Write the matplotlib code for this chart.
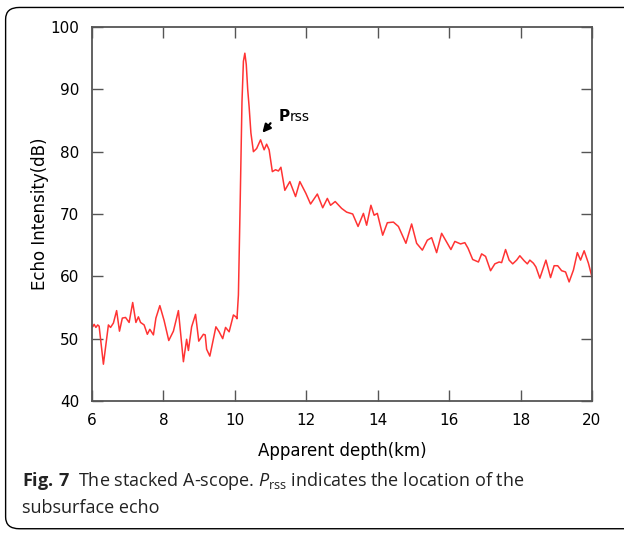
"""Stacked A-scope: echo intensity vs apparent depth, with the Prss marker."""
import matplotlib
matplotlib.use("Agg")
import matplotlib.pyplot as plt
from matplotlib.patches import FancyBboxPatch

# --- data -------------------------------------------------------------------
depth_km = [
    6.00, 6.02, 6.06, 6.11, 6.16, 6.20, 6.32, 6.46, 6.52, 6.60, 6.69, 6.77,
    6.85, 6.94, 7.04, 7.14, 7.23, 7.30, 7.36, 7.46, 7.55, 7.62, 7.72, 7.79,
    7.90, 8.02, 8.15, 8.28, 8.42, 8.56, 8.65, 8.70, 8.79, 8.90, 8.99, 9.12,
    9.17, 9.21, 9.30, 9.40, 9.47, 9.56, 9.66, 9.74, 9.84, 9.96, 10.03, 10.06,
    10.10, 10.15, 10.20, 10.24, 10.28, 10.32, 10.36, 10.40, 10.45, 10.52,
    10.61, 10.72, 10.82, 10.89, 10.96, 11.05, 11.14, 11.22, 11.29, 11.40,
    11.54, 11.70, 11.82, 11.99, 12.12, 12.31, 12.46, 12.59, 12.68, 12.81,
    12.99, 13.13, 13.30, 13.45, 13.60, 13.69, 13.81, 13.90, 13.99, 14.14,
    14.27, 14.44, 14.58, 14.79, 14.95, 15.09, 15.25, 15.39, 15.51, 15.65,
    15.79, 15.91, 16.05, 16.16, 16.32, 16.44, 16.53, 16.66, 16.82, 16.91,
    17.02, 17.16, 17.28, 17.40, 17.47, 17.58, 17.68, 17.78, 17.89, 17.98,
    18.10, 18.19, 18.26, 18.36, 18.43, 18.54, 18.71, 18.84, 18.94, 19.04,
    19.15, 19.26, 19.36, 19.48, 19.59, 19.68, 19.78, 19.90, 20.00,
]
intensity_db = [
    52.0, 51.9, 52.3, 51.8, 52.2, 52.0, 45.9, 52.2, 51.8, 52.5, 54.5, 51.2,
    53.3, 53.4, 52.6, 55.8, 52.6, 53.5, 52.6, 52.2, 50.7, 51.5, 50.6, 53.3,
    55.3, 52.9, 49.7, 51.2, 54.5, 46.3, 49.9, 48.1, 51.9, 53.9, 49.6, 50.7,
    50.6, 48.3, 47.2, 50.0, 51.9, 51.1, 50.0, 51.8, 51.1, 53.8, 53.5, 53.2,
    57.0, 72.0, 88.0, 94.5, 95.8, 94.0, 90.0, 87.2, 83.0, 80.0,
    80.5, 81.9, 80.3, 81.2, 80.3, 76.8, 77.1, 76.9, 77.5, 73.8,
    75.2, 72.8, 75.2, 73.3, 71.6, 73.2, 71.0, 72.5, 71.4, 72.0,
    70.9, 70.3, 70.0, 68.0, 70.1, 68.2, 71.4, 69.8, 70.1, 66.6,
    68.6, 68.7, 68.0, 65.3, 68.4, 65.3, 64.2, 65.8, 66.2, 63.8,
    66.9, 65.7, 64.3, 65.6, 65.2, 65.4, 64.5, 62.7, 62.3, 63.6,
    63.2, 60.9, 62.0, 62.3, 62.2, 64.3, 62.6, 62.0, 62.6, 63.3,
    62.5, 62.0, 62.6, 62.1, 61.5, 59.7, 62.6, 59.8, 61.7, 61.7,
    60.9, 60.7, 59.1, 61.0, 63.8, 62.6, 64.1, 62.1, 59.9,
]
x_ticks = [6, 8, 10, 12, 14, 16, 18, 20]
y_ticks = [40, 50, 60, 70, 80, 90, 100]

AXIS_GRAY = "#555555"

# caption math (italic P_rss) in the same face as the caption text
plt.rcParams["mathtext.fontset"] = "custom"
plt.rcParams["mathtext.rm"] = "Open Sans"
plt.rcParams["mathtext.it"] = "Open Sans:italic"
plt.rcParams["mathtext.bf"] = "Open Sans:bold"

fig = plt.figure(figsize=(6.24, 5.33), dpi=100)

# rounded frame around figure + caption
frame = FancyBboxPatch((0.009, 0.008), 1.05, 0.978,
                       boxstyle="round,pad=0,rounding_size=0.022",
                       transform=fig.transFigure, fill=False,
                       edgecolor="black", linewidth=1.0)
fig.patches.append(frame)

ax = fig.add_axes([0.1474, 0.2477, 0.8013, 0.7016])
ax.plot(depth_km, intensity_db, color="#ff3333", linewidth=1.1)

ax.set_xlim(6, 20)
ax.set_ylim(40, 100)
ax.set_xticks(x_ticks)
ax.set_yticks(y_ticks)
ax.tick_params(direction="in", length=8, width=1.0, color=AXIS_GRAY,
               top=True, right=True, labelsize=11, pad=9)
for s in ax.spines.values():
    s.set_color(AXIS_GRAY)
    s.set_linewidth(1.3)

ax.set_xlabel("Apparent depth(km)", fontsize=12, fontweight="medium",
              labelpad=10)
ax.set_ylabel("Echo Intensity(dB)", fontsize=12, fontweight="medium",
              labelpad=1)

# Prss arrow + label
ax.annotate("", xy=(10.72, 82.7), xytext=(11.05, 84.9),
            arrowprops=dict(arrowstyle="-|>", color="black", lw=1.6,
                            mutation_scale=12))
ax.text(11.22, 85.6, "P", fontsize=11, fontweight="bold", va="center",
        ha="left")
ax.text(11.55, 85.6, "rss", fontsize=10, va="center", ha="left")

# caption
fig.text(0.035, 0.097,
         r"$\mathbf{Fig.\,7}$  The stacked A-scope. $P_{\mathrm{rss}}$ "
         "indicates the location of the",
         fontsize=13, family="Open Sans", va="center", ha="left",
         color="#222222")
fig.text(0.035, 0.046, "subsurface echo", fontsize=13, family="Open Sans",
         va="center", ha="left", color="#222222")

fig.savefig("out.png", dpi=100)
